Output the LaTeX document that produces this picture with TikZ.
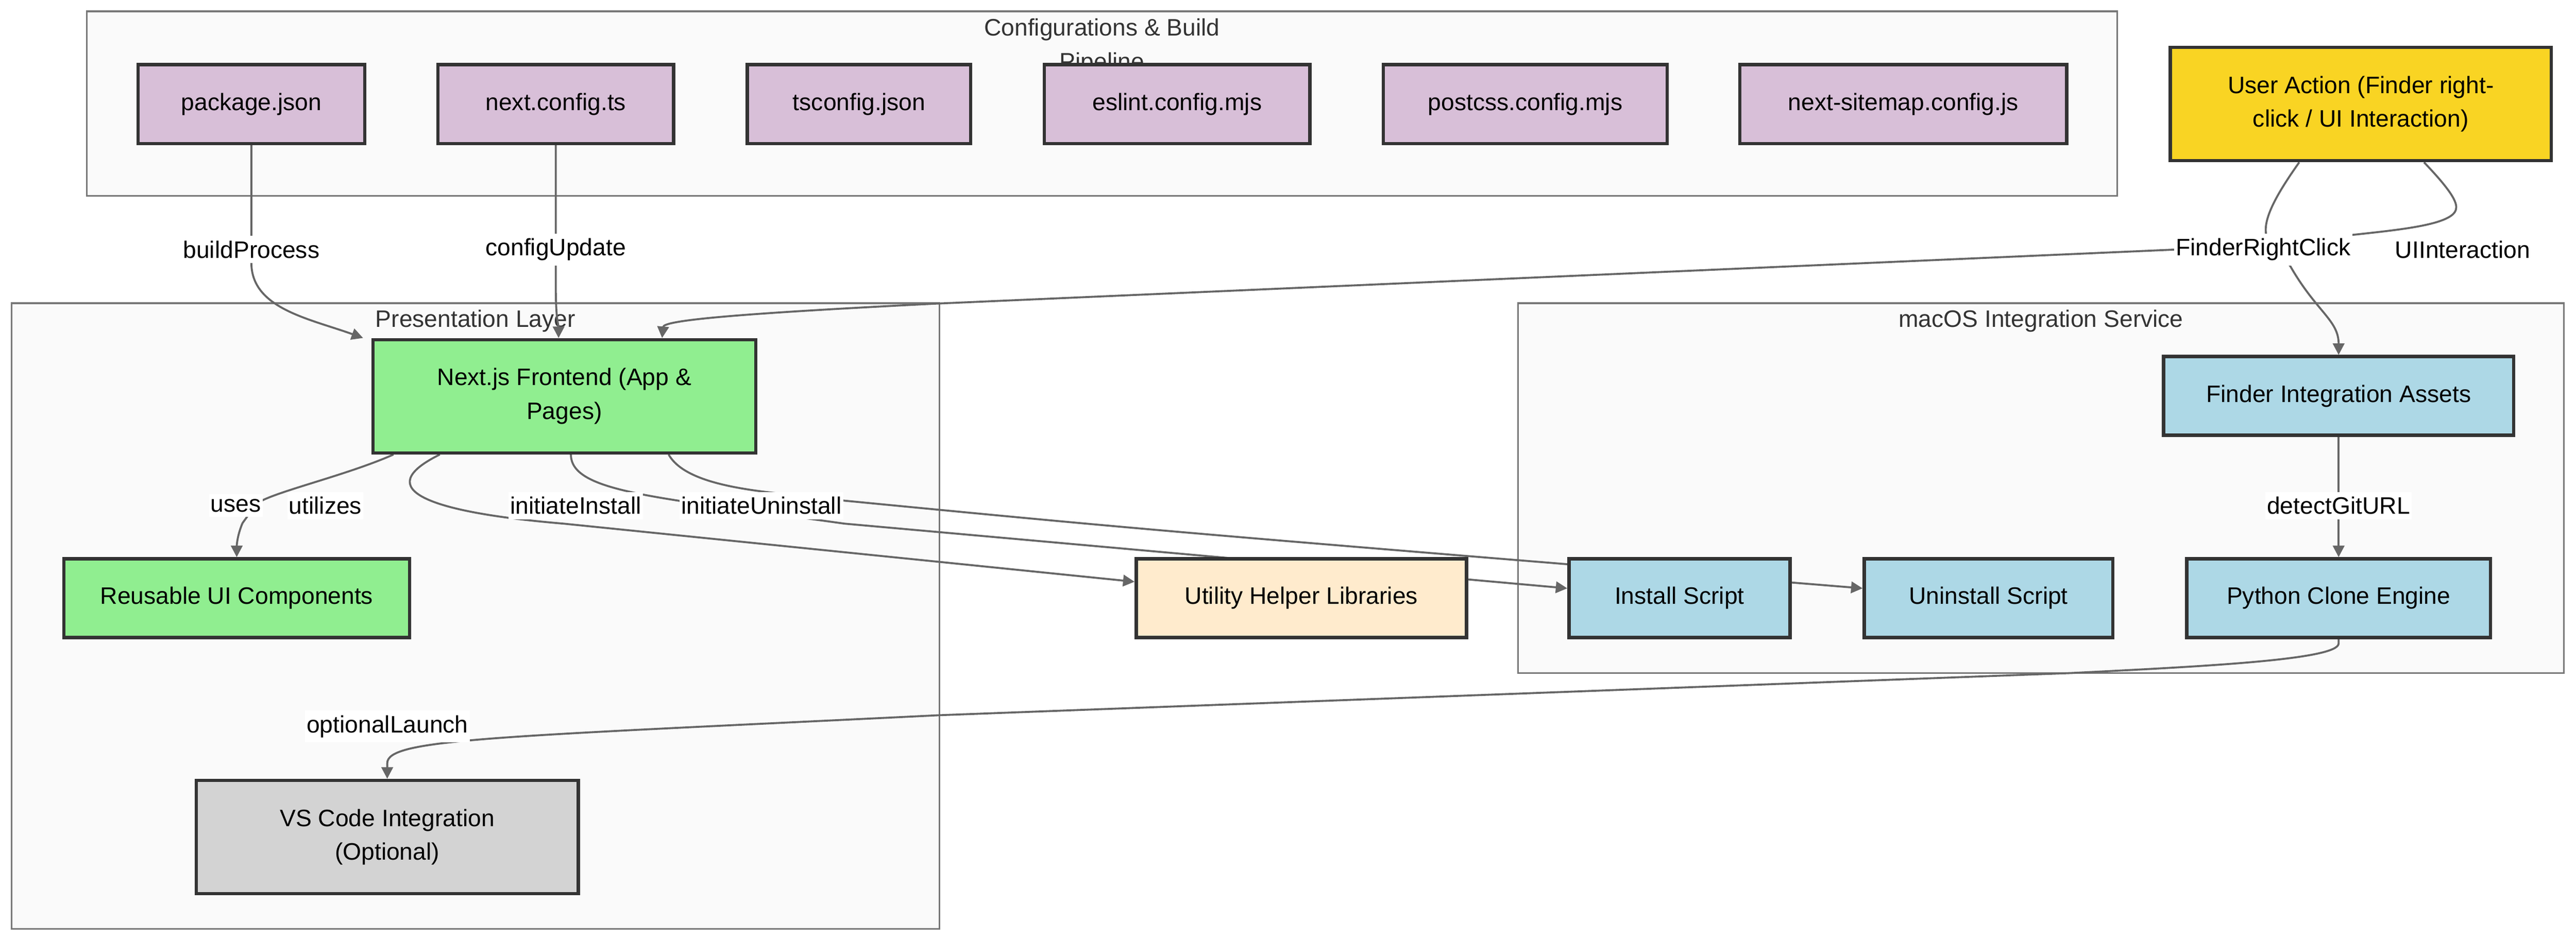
\documentclass[tikz,border=0pt]{standalone}
\usepackage{fontspec}
\setmainfont{Liberation Sans}
\usetikzlibrary{arrows.meta}

\definecolor{cfgfill}{HTML}{D8BFD8}
\definecolor{userfill}{HTML}{F9D423}
\definecolor{uifill}{HTML}{90EE90}
\definecolor{utilfill}{HTML}{FFEBCD}
\definecolor{macfill}{HTML}{ADD8E6}
\definecolor{vsfill}{HTML}{D3D3D3}
\definecolor{nodeline}{HTML}{333333}
\definecolor{clusterfill}{HTML}{FAFAFA}
\definecolor{clusterline}{HTML}{777777}
\definecolor{linkgray}{HTML}{666666}
\definecolor{titlegray}{HTML}{333333}

\pgfdeclarelayer{clusters}
\pgfdeclarelayer{edges}
\pgfsetlayers{clusters,edges,main}

\begin{document}
\begin{tikzpicture}[x=1pt,y=-1pt,
    every node/.style={font=\fontsize{14.5}{20.6}\selectfont},
    nodebox/.style={draw=nodeline, line width=2pt, minimum height=48pt, inner sep=0pt, align=center},
    tallbox/.style={nodebox, minimum height=69pt},
    cluster/.style={draw=clusterline, fill=clusterfill, line width=1pt},
    clustertitle/.style={text=titlegray, align=center},
    lbl/.style={fill=white, inner xsep=1pt, inner ysep=3pt},
    flow/.style={draw=linkgray, line width=1.2pt, -{Triangle[length=7pt,width=7pt]}}]
    \useasboundingbox (0,0) rectangle (1568,573.2);

    % subgraphs
    \begin{pgfonlayer}{clusters}
    \draw[cluster] (52.9,6.9) rectangle (1288.7,119.4);
    \draw[cluster] (7,184.7) rectangle (571.8,566);
    \draw[cluster] (924,184.7) rectangle (1560.6,410);
    \node[clustertitle] (cfgtitle) at (670.8,28.3) {Configurations \& Build\\Pipeline};
    \node[clustertitle] (prestitle) at (289.4,195.5) {Presentation Layer};
    \node[clustertitle] (mactitle) at (1242.3,195.5) {macOS Integration Service};
    \end{pgfonlayer}

    % nodes
    \node[nodebox, fill=cfgfill, minimum width=138pt] (pkg) at (153,63.4) {package.json};
    \node[nodebox, fill=cfgfill, minimum width=143.5pt] (nextcfg) at (338.3,63.4) {next.config.ts};
    \node[nodebox, fill=cfgfill, minimum width=136pt] (tscfg) at (522.9,63.4) {tsconfig.json};
    \node[nodebox, fill=cfgfill, minimum width=161.6pt] (eslint) at (716.5,63.4) {eslint.config.mjs};
    \node[nodebox, fill=cfgfill, minimum width=172.7pt] (postcss) at (928.4,63.4) {postcss.config.mjs};
    \node[nodebox, fill=cfgfill, minimum width=199pt] (sitemap) at (1158.5,63.4) {next-sitemap.config.js};
    \node[tallbox, fill=userfill, minimum width=232pt] (user) at (1437,63.4) {User Action (Finder right-\\click / UI Interaction)};
    \node[tallbox, fill=uifill, minimum width=233pt] (next) at (343.5,241.4) {Next.js Frontend (App \&\\Pages)};
    \node[nodebox, fill=uifill, minimum width=210.6pt] (reuse) at (144.1,364.4) {Reusable UI Components};
    \node[nodebox, fill=utilfill, minimum width=201pt] (util) at (792.1,364.4) {Utility Helper Libraries};
    \node[tallbox, fill=vsfill, minimum width=232.6pt] (vscode) at (235.7,509.9) {VS Code Integration\\(Optional)};
    \node[nodebox, fill=macfill, minimum width=213pt] (finder) at (1423.5,241.2) {Finder Integration Assets};
    \node[nodebox, fill=macfill, minimum width=134.6pt] (install) at (1022.3,364.4) {Install Script};
    \node[nodebox, fill=macfill, minimum width=151.3pt] (uninstall) at (1210.4,364.4) {Uninstall Script};
    \node[nodebox, fill=macfill, minimum width=185pt] (python) at (1423.5,364.4) {Python Clone Engine};

    % connectors
    \begin{pgfonlayer}{edges}
    \draw[flow] (pkg.south) -- (153,160) .. controls (153,188) and (188,194) .. ([xshift=-5pt]next.north west);
    \draw[flow] (nextcfg.south) -- (338.3,175) .. controls (338.3,195) and (340,198) .. ([xshift=-3.5pt]next.north);
    \draw[flow] ([xshift=-37.5pt]user.south) .. controls (1386,118) and (1376,135) .. (1380,145) -- (1394,162) .. controls (1410,190) and (1423.5,195) .. (finder.north);
    \draw[flow] ([xshift=38.5pt]user.south) .. controls (1488,112) and (1496,122) .. (1495,127) .. controls (1494,137) and (1460,140) .. (1430,143.3) -- (1325,152) -- (569,185) .. controls (450,191) and (404,195) .. ([xshift=59.5pt]next.north);
    \draw[flow] (finder.south) -- (python.north);
    \draw[flow] ([xshift=-104pt]next.south) .. controls (210,290) and (165,300) .. (156,307) -- (147.6,318.7) .. controls (144.5,326) and (144.1,332) .. (reuse.north);
    \draw[flow] ([xshift=-75.8pt]next.south) .. controls (225,298) and (260,312) .. (343,319) -- ([yshift=10pt]util.west);
    \draw[flow] ([xshift=4pt]next.south) .. controls (347.6,300) and (400,303) .. (514,319) -- ([yshift=6pt]install.west);
    \draw[flow] ([xshift=63.5pt]next.south) .. controls (420,300) and (480,300) .. (514,305) .. controls (700,323) .. ([yshift=6pt]uninstall.west);
    \draw[flow] (python.south) -- (1423.5,392) .. controls (1423.5,402) and (1340,406) .. (1261,410) -- (571.7,435.7) .. controls (300,449) and (235.7,450) .. (235.7,465) -- (vscode.north);
    \end{pgfonlayer}

    % edge labels
    \node[lbl] (lbuild) at (153,152) {buildProcess};
    \node[lbl] (lconfig) at (338.3,152) {configUpdate};
    \node[lbl] (lfinder) at (1377.6,152) {FinderRightClick};
    \node[lbl] (lui) at (1499,152) {UIInteraction};
    \node[lbl] (luses) at (143.5,308) {uses};
    \node[lbl] (lutil) at (198,308) {utilizes};
    \node[lbl] (linst) at (350.5,308) {initiateInstall};
    \node[lbl] (luninst) at (463.5,308) {initiateUninstall};
    \node[lbl] (lgit) at (1423.4,308) {detectGitURL};
    \node[lbl] (lvscode) at (235.8,442.5) {optionalLaunch};
\end{tikzpicture}
\end{document}
